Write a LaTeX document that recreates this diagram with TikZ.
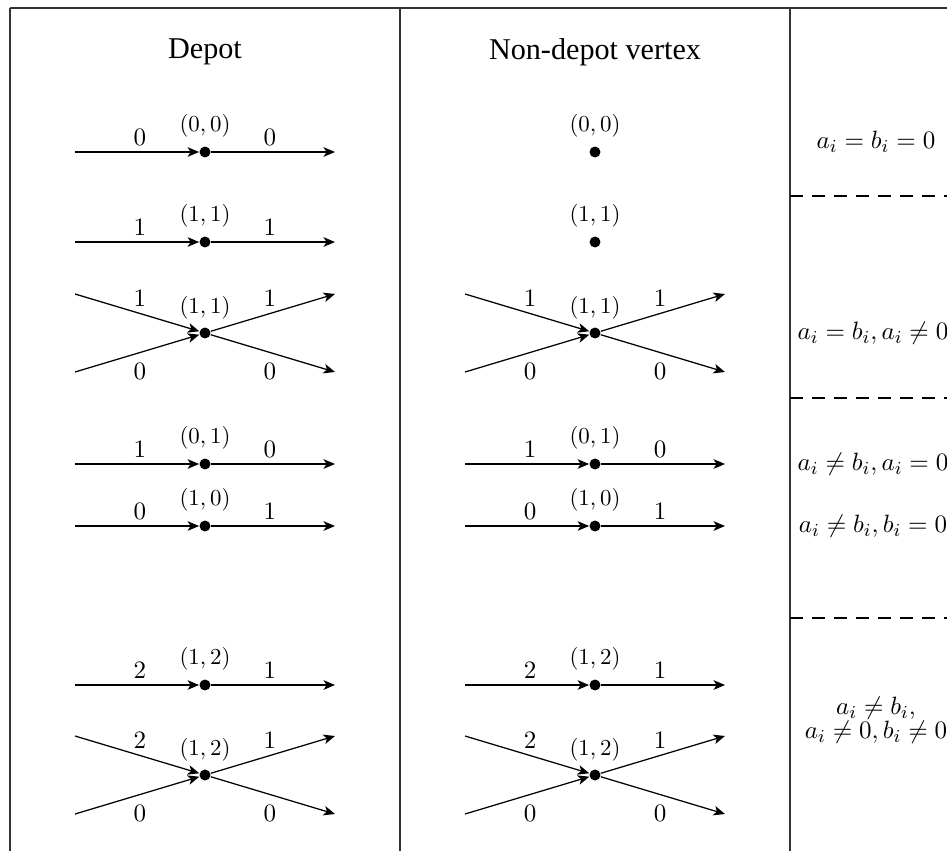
\documentclass[tikz,border=0pt]{standalone}
\usepackage{fontspec}
\newfontfamily\headfont{Liberation Serif}
\usetikzlibrary{arrows.meta}
\newcommand\straightrow[6]{%
  \coordinate (#1i) at ({#2-130},#3);
  \coordinate (#1o) at ({#2+130},#3);
  \node[vtx] (#1) at (#2,#3) {};
  \draw[edge] (#1i) -- (#1);
  \draw[edge] (#1) -- (#1o);
  \node[elab] (#1a) at ({#2-65},{#3-15}) {$#4$};
  \node[elab] (#1b) at ({#2+65},{#3-15}) {$#6$};
  \node[clab] (#1c) at (#2,{#3-26}) {$#5$};
}
\newcommand\crossrow[7]{%
  \coordinate (#1tl) at ({#2-130},{#3-39});
  \coordinate (#1bl) at ({#2-130},{#3+39});
  \coordinate (#1tr) at ({#2+130},{#3-39});
  \coordinate (#1br) at ({#2+130},{#3+39});
  \node[vtx] (#1) at (#2,#3) {};
  \draw[edge] (#1tl) -- (#1);
  \draw[edge] (#1bl) -- (#1);
  \draw[edge] (#1) -- (#1tr);
  \draw[edge] (#1) -- (#1br);
  \node[elab] (#1a) at ({#2-65},{#3-35}) {$#4$};
  \node[elab] (#1b) at ({#2+65},{#3-35}) {$#6$};
  \node[elab] (#1d) at ({#2-65},{#3+38}) {$#7$};
  \node[elab] (#1e) at ({#2+65},{#3+38}) {$#7$};
  \node[clab] (#1c) at (#2,{#3-25}) {$#5$};
}
\newcommand\dotonly[4]{%
  \node[vtx] (#1) at (#2,#3) {};
  \node[clab] (#1c) at (#2,{#3-26}) {$#4$};
}
\begin{document}
\begin{tikzpicture}[x=0.0153846cm, y=-0.0153846cm,
  vtx/.style={circle, fill, inner sep=0pt, minimum size=4.8pt},
  edge/.style={-{Stealth[length=5pt,width=4.2pt,inset=1.3pt]}, line width=0.55pt},
  elab/.style={font=\fontsize{10.5}{12}\selectfont, inner sep=0pt},
  clab/.style={font=\fontsize{10.3}{12}\selectfont, inner sep=0pt},
  hd/.style={font=\headfont\fontsize{13.2}{15}\selectfont, inner sep=0pt},
  cond/.style={font=\fontsize{11.2}{10.5}\selectfont, align=center, inner sep=0pt},
  frame/.style={line width=0.6pt, draw=black!80},
  sep/.style={dash pattern=on 5.8pt off 3.8pt, line width=0.5pt}
]
\useasboundingbox (0,0) rectangle (947,850);
\clip (0,0) rectangle (947,850);
% frame
\draw[frame] (10,8) -- (970,8);
\draw[frame] (10,8) -- (10,870);
\draw[frame] (400,8) -- (400,870);
\draw[frame] (790,8) -- (790,870);
% separators
\draw[sep] (790,196) -- (970,196);
\draw[sep] (790,398) -- (970,398);
\draw[sep] (790,618) -- (970,618);
% headers
\node[hd] (hdepot) at (205,52) {Depot};
\node[hd] (hnon) at (595,52) {Non-depot vertex};
% depot column
\straightrow{da}{205}{152}{0}{(0,0)}{0}
\straightrow{db}{205}{242}{1}{(1,1)}{1}
\crossrow{dc}{205}{333}{1}{(1,1)}{1}{0}
\straightrow{dd}{205}{464}{1}{(0,1)}{0}
\straightrow{de}{205}{526}{0}{(1,0)}{1}
\straightrow{df}{205}{685}{2}{(1,2)}{1}
\crossrow{dg}{205}{775}{2}{(1,2)}{1}{0}
% non-depot column
\dotonly{na}{595}{152}{(0,0)}
\dotonly{nb}{595}{242}{(1,1)}
\crossrow{nc}{595}{333}{1}{(1,1)}{1}{0}
\straightrow{nd}{595}{464}{1}{(0,1)}{0}
\straightrow{ne}{595}{526}{0}{(1,0)}{1}
\straightrow{nf}{595}{685}{2}{(1,2)}{1}
\crossrow{ng}{595}{775}{2}{(1,2)}{1}{0}
% conditions
\node[cond] (c1) at (876,142) {$a_i = b_i = 0$};
\node[cond] (c2) at (873,333) {$a_i = b_i, a_i \neq 0$};
\node[cond] (c3) at (873,464) {$a_i \neq b_i, a_i = 0$};
\node[cond] (c4) at (873,526) {$a_i \neq b_i, b_i = 0$};
\node[cond] (c5) at (876,720) {$a_i \neq b_i$,\\ $a_i \neq 0, b_i \neq 0$};
\end{tikzpicture}
\end{document}
